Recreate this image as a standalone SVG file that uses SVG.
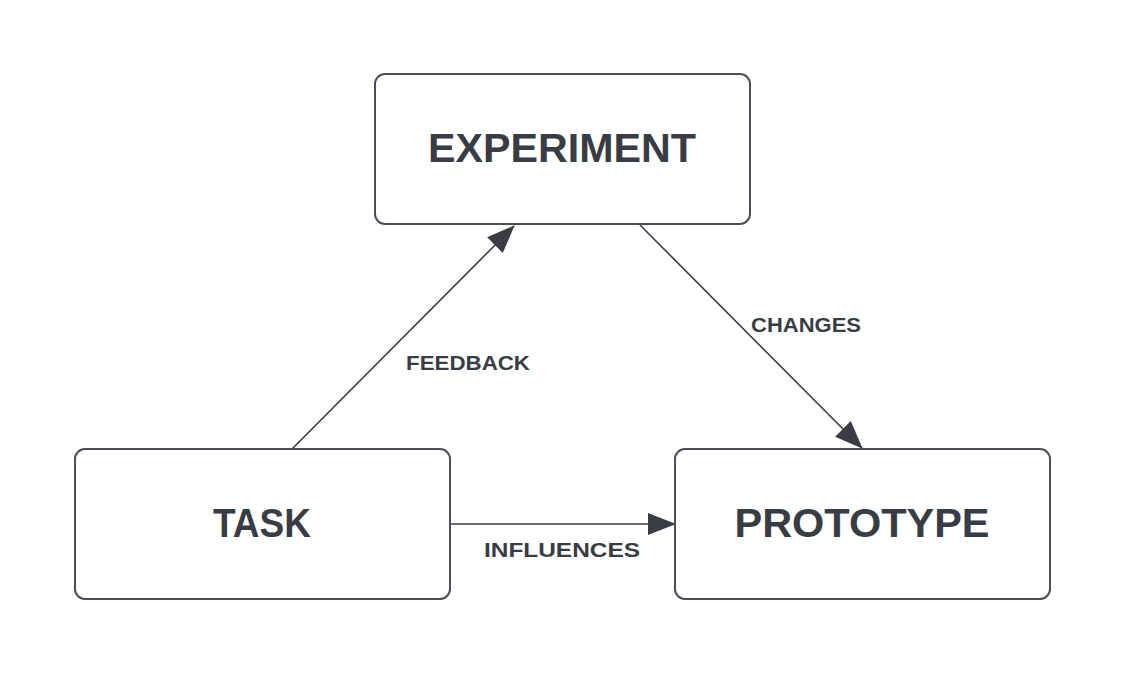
<svg xmlns="http://www.w3.org/2000/svg" width="1125" height="675" viewBox="0 0 1125 675">
<defs>
<style>
.box{fill:#ffffff;stroke:#4a4f57;stroke-width:2}
.node{font-family:"Liberation Sans",Arial,sans-serif;font-weight:bold;font-size:40px;fill:#383d45;text-anchor:middle}
.lbl{font-family:"Liberation Sans",Arial,sans-serif;font-weight:bold;font-size:20px;fill:#383d45;text-anchor:middle}
.edge{stroke:#383d45;stroke-width:1.6;fill:none}
</style>
<marker id="ah" markerUnits="userSpaceOnUse" markerWidth="28" markerHeight="22" refX="27" refY="11" orient="auto" viewBox="0 0 28 22">
<path d="M0,0 L28,11 L0,22 Z" fill="#383d45"/>
</marker>
</defs>
<rect width="1125" height="675" fill="#ffffff"/>
<g id="connectors">
<g id="e-feedback">
<line class="edge" x1="292" y1="449" x2="514" y2="226" marker-end="url(#ah)"/>
<text class="lbl" x="468" y="370" textLength="124" lengthAdjust="spacingAndGlyphs">FEEDBACK</text>
</g>
<g id="e-changes">
<line class="edge" x1="640" y1="225" x2="862" y2="448" marker-end="url(#ah)"/>
<text class="lbl" x="806" y="332" textLength="110" lengthAdjust="spacingAndGlyphs">CHANGES</text>
</g>
<g id="e-influences">
<line class="edge" x1="451" y1="524" x2="675" y2="524" marker-end="url(#ah)"/>
<text class="lbl" x="562" y="557" textLength="156" lengthAdjust="spacingAndGlyphs">INFLUENCES</text>
</g>
</g>
<g id="experiment">
<rect class="box" x="375" y="74" width="375" height="150" rx="10"/>
<text class="node" x="562" y="162" textLength="268" lengthAdjust="spacingAndGlyphs">EXPERIMENT</text>
</g>
<g id="task">
<rect class="box" x="75" y="449" width="375" height="150" rx="10"/>
<text class="node" x="262" y="537" textLength="98" lengthAdjust="spacingAndGlyphs">TASK</text>
</g>
<g id="prototype">
<rect class="box" x="675" y="449" width="375" height="150" rx="10"/>
<text class="node" x="862" y="537" textLength="255" lengthAdjust="spacingAndGlyphs">PROTOTYPE</text>
</g>
</svg>
